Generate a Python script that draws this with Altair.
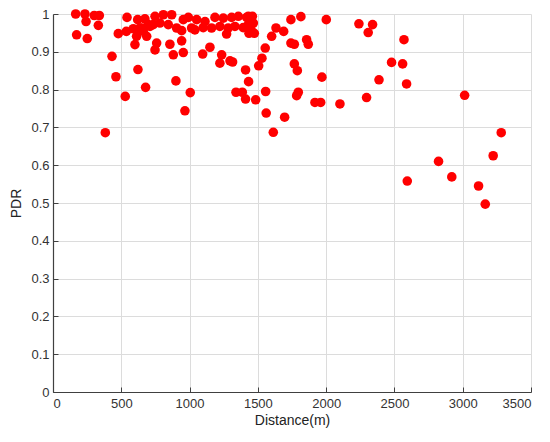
import altair as alt
import pandas as pd

distance = [
    166, 234, 242, 302, 339, 332, 173, 251, 432, 478, 537, 542, 461, 529, 383,
    588, 600, 612, 620, 649, 673, 686, 710, 622, 678, 661, 698, 637,
    747, 808, 869, 954, 991, 1052, 1113, 1186, 1247, 1308, 1357, 1418,
    734, 783, 844, 905, 942, 1015, 1039, 1100, 1161, 1222, 1283, 1332, 1393,
    1271, 856, 942, 759, 747, 881, 954, 1149, 1096, 1235, 1222, 1296, 1315,
    900, 1005, 966, 1410, 1432, 1340, 1386, 1410, 1484, 1506, 1530,
    1430, 1460, 1467, 1430, 1450, 1474, 1435,
    1554, 1601, 1633, 1689, 1742, 1815, 2001, 2240, 2340, 2308, 1742, 1767,
    1857, 1869, 1767, 1789, 1969, 2479, 2387, 1557, 1796, 1784, 2296, 1918,
    1960, 2101, 2570, 2560, 2589, 3014, 1613, 1696, 1561,
    2594, 2823, 2920, 3116, 3165, 3223, 3282,
]
pdr = [
    1.0, 1.0, 0.98, 0.996, 0.996, 0.97, 0.945, 0.935, 0.888, 0.948, 0.954, 0.991, 0.834, 0.782, 0.686,
    0.961, 0.919, 0.941, 0.985, 0.963, 0.987, 0.941, 0.967, 0.853, 0.806, 0.954, 0.972, 0.963,
    0.994, 0.998, 0.998, 0.985, 0.991, 0.985, 0.980, 0.991, 0.989, 0.991, 0.994, 0.991,
    0.972, 0.976, 0.972, 0.963, 0.956, 0.963, 0.958, 0.964, 0.963, 0.967, 0.963, 0.967, 0.964,
    0.947, 0.920, 0.929, 0.923, 0.905, 0.892, 0.898, 0.912, 0.894, 0.892, 0.870, 0.876, 0.873,
    0.823, 0.792, 0.744, 0.852, 0.821, 0.793, 0.793, 0.775, 0.773, 0.863, 0.883,
    0.994, 0.994, 0.976, 0.972, 0.958, 0.949, 0.949,
    0.910, 0.941, 0.963, 0.954, 0.985, 0.993, 0.985, 0.974, 0.972, 0.951, 0.923, 0.920,
    0.932, 0.920, 0.868, 0.850, 0.833, 0.872, 0.826, 0.795, 0.793, 0.784, 0.779, 0.766,
    0.766, 0.762, 0.932, 0.868, 0.815, 0.785, 0.687, 0.727, 0.738,
    0.558, 0.610, 0.569, 0.545, 0.497, 0.625, 0.686,
]

x_ticks = [0, 500, 1000, 1500, 2000, 2500, 3000, 3500]
y_ticks = [0, 0.1, 0.2, 0.3, 0.4, 0.5, 0.6, 0.7, 0.8, 0.9, 1]

df = pd.DataFrame({"Distance": distance, "PDR": pdr})

font = "Liberation Sans"

chart = alt.Chart(df).mark_circle(size=92, color="#ff0000", opacity=1).encode(
    x=alt.X("Distance:Q",
            scale=alt.Scale(domain=[0, 3500], nice=False),
            axis=alt.Axis(values=x_ticks, format="d", title="Distance(m)",
                          tickSize=alt.ExprRef(expr="-5"), labelPadding=10,
                          titlePadding=3)),
    y=alt.Y("PDR:Q",
            scale=alt.Scale(domain=[0, 1], nice=False),
            axis=alt.Axis(values=y_ticks, format="~g", title="PDR",
                          tickSize=alt.ExprRef(expr="-5"), labelPadding=9,
                          titlePadding=7)),
).properties(
    width=478,
    height=378,
    padding={"left": 45, "top": 6, "right": 10, "bottom": 40},
    autosize=alt.AutoSizeParams(type="none"),
).configure_view(
    stroke=None
).configure_axis(
    gridColor="#dcdcdc",
    gridWidth=1,
    domainColor="#404040",
    domainWidth=1.2,
    tickColor="#404040",
    labelFont=font,
    labelFontSize=13,
    labelColor="#333333",
    titleFont=font,
    titleFontSize=14,
    titleFontWeight="normal",
    titleColor="#222222",
)

chart.save("out.html", embed_options={"renderer": "svg", "actions": False})
